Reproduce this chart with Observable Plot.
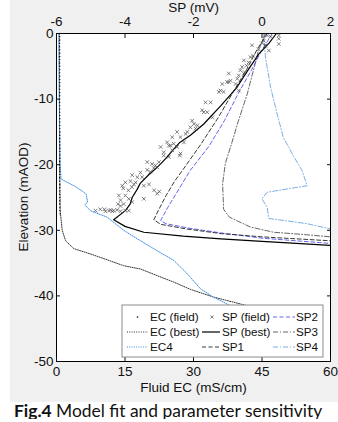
<!DOCTYPE html>
<html><head><meta charset="utf-8">
<script src="https://cdn.jsdelivr.net/npm/d3@7"></script>
<script src="https://cdn.jsdelivr.net/npm/@observablehq/plot@0.6"></script>
<style>
body{margin:0;background:#fff;}
#chart svg{display:block;font-family:"Liberation Sans",Arial,sans-serif !important;font-size:13.5px !important;}
#cap{font-family:Lato,"Open Sans",sans-serif;font-size:17.4px;color:#111;padding-left:14px;line-height:17px;white-space:nowrap;}
</style></head><body>
<div id="chart"></div>
<div id="cap"><b>Fig.4</b> Model fit and parameter sensitivity</div>
<script>
// ---- tick labels ----
const ecTicks = [0, 15, 30, 45, 60];
const spTicks = [-6, -4, -2, 0, 2];
const elTicks = [0, -10, -20, -30, -40, -50];

// ---- EC (field) ----
const ecFieldEl = [0,-0.5,-1,-1.5,-2,-2.5,-3,-3.5,-4,-4.5,-5,-5.5,-6,-6.5,-7,-7.5,-8,-8.5,-9,-9.5,-10,-10.5,-11,-11.5,-12,-12.5,-13,-13.5,-14,-14.5,-15,-15.5,-16,-16.5,-17,-17.5,-18,-18.5,-19,-19.5,-20,-20.5,-21,-21.5,-22,-22.5,-23,-23.5,-24,-24.5,-25,-25.5,-26,-26.5,-27,-27.5];
const ecFieldEC = [0.7,0.7,0.72,0.7,0.68,0.7,0.72,0.7,0.7,0.68,0.7,0.72,0.7,0.7,0.7,0.72,0.7,0.68,0.7,0.7,0.72,0.7,0.7,0.7,0.68,0.7,0.72,0.7,0.7,0.7,0.72,0.7,0.7,0.68,0.7,0.7,0.72,0.7,0.7,0.7,0.7,0.72,0.7,0.7,0.68,0.7,0.72,0.7,0.7,0.7,0.72,0.7,0.7,0.75,0.75,0.8];

// ---- EC (best) ----
const ecBestEC = [0.6,0.65,0.7,0.8,1.25,2.0,3.8,7.4,11.1,14.7,18.4,22.0,25.7,29.3,34.5,41.8,46.0];
const ecBestEl = [0,-10,-20,-27,-30,-31.6,-32.8,-33.6,-34.5,-35.4,-35.9,-36.9,-37.9,-39.0,-40.2,-41.5,-42.3];

// ---- EC4 ----
const ec4EC = [0.5,0.6,0.8,1.0,3.8,5.6,6.5,6.8,6.2,7.4,11.1,14.7,18.4,22.0,25.7,28.6,31.5,34.4,38.1,42.0];
const ec4El = [0,-10,-20,-22.2,-23.2,-24.0,-24.5,-25.7,-26.1,-27.0,-28.0,-30.0,-31.6,-33.1,-34.6,-36.6,-38.9,-40.2,-41.5,-42.3];

// ---- SP (field) ----
const spFieldSP = [0.49,0.49,0.49,0.15,0.25,0.05,0.1,0.0,-0.1,0.1,0.2,-0.29,
  -0.34,-0.26,-0.39,-0.45,-0.53,-0.58,-0.63,-0.68,-0.72,-0.77,-0.5,-0.53,
  -0.97,-0.92,-1.02,-0.97,-1.16,-1.21,-1.12,-1.26,-0.68,-1.65,-1.5,
  -1.75,-1.7,-1.6,-1.45,-2.04,-1.99,-1.89,-2.09,-1.94,
  -2.48,-2.23,-2.62,-2.38,-2.18,-2.58,-2.67,-2.48,-2.38,-2.62,
  -2.77,-2.28,-2.96,-2.87,-2.72,-2.87,-2.72,-2.4,
  -3.35,-3.21,-3.11,-3.06,-3.01,-3.35,-3.26,-3.16,
  -3.79,-3.64,-3.55,-3.5,-3.69,-3.3,-3.45,
  -4.08,-3.99,-3.84,-3.74,-4.05,-3.9,-3.8,-3.15,-3.06,-3.0,
  -4.18,-3.99,-4.13,-3.89,-3.79,-4.04,-3.45,-4.2,-4.13,
  -4.86,-4.72,-4.57,-4.47,-4.42,-4.37,-4.33,-4.23,-4.13,-3.99,-3.89,-4.6];
const spFieldEl = [-0.3,-0.8,-1.6,-0.3,-0.5,-1.1,-1.8,-1.5,-2.4,-1.9,-2.6,-1.8,
  -3.6,-3.4,-4.4,-4.9,-4.1,-5.1,-5.6,-6.4,-6.9,-7.7,-5.9,-6.1,
  -6.1,-7.2,-7.4,-7.4,-7.7,-8.7,-8.9,-8.9,-8.7,-10.5,-10.5,
  -11.7,-12.0,-12.0,-12.8,-13.3,-13.8,-14.0,-14.3,-14.5,
  -15.0,-15.3,-15.8,-15.8,-15.0,-16.8,-17.1,-17.3,-18.3,-17.8,
  -16.6,-16.6,-17.3,-18.1,-17.1,-18.6,-18.8,-18.6,
  -19.6,-19.9,-20.1,-20.4,-19.6,-20.8,-21.1,-20.5,
  -21.6,-21.9,-21.2,-21.9,-22.7,-23.0,-23.2,
  -23.2,-22.7,-22.5,-23.0,-23.6,-23.9,-23.4,-23.9,-24.4,-24.1,
  -24.7,-24.7,-25.4,-25.2,-25.7,-26.0,-25.2,-26.0,-26.3,
  -27.0,-26.8,-27.1,-27.0,-26.9,-27.1,-27.0,-26.9,-27.1,-27.0,-27.0,-26.8];

// ---- SP (best) ----
const spBestSP = [0.42,0.2,-0.09,-0.4,-0.73,-1.2,-1.7,-2.09,-2.4,-2.57,-2.8,-3.06,-3.15,-3.3,-3.55,-3.6,-3.65,-3.79,-3.85,-3.99,-4.33,-4.0,-3.45,-2.3,-1.2,0,1.0,2.0];
const spBestEl = [0,-1.5,-3.1,-5.5,-8.2,-11,-13.8,-15.5,-16.6,-17.6,-19,-20.4,-20.8,-21.5,-22.8,-23.3,-23.8,-25,-26,-27,-28.4,-29.4,-30.3,-30.9,-31.3,-31.7,-32.0,-32.3];

// ---- SP1..SP4 ----
const sp1SP = [0.15,-0.15,-0.45,-0.85,-1.3,-1.8,-2.3,-2.55,-2.8,-3.0,-3.16,-2.95,-2.2,-1.2,0,1.0,2.0];
const sp1El = [0,-2.5,-5.5,-9,-13,-17,-20.7,-22.5,-24.7,-26.7,-28.4,-29.1,-29.8,-30.5,-31.0,-31.3,-31.6];
const sp2SP = [0.3,0.0,-0.3,-0.7,-1.1,-1.55,-2.1,-2.4,-2.75,-2.96,-2.8,-2.1,-1.2,0,1.0,2.0];
const sp2El = [0,-2.5,-5.5,-9.2,-13.3,-17.2,-20.9,-23.5,-26.5,-28.5,-29.0,-29.7,-30.4,-31.2,-31.6,-32.0];
const sp3SP = [0.1,-0.1,-0.2,-0.43,-0.7,-0.9,-1.07,-1.15,-1.12,-0.95,-0.34,0.34,1.12,2.0];
const sp3El = [0,-2.5,-4.6,-9.2,-13.5,-17,-19.8,-22.9,-26.8,-28.0,-29.5,-30.3,-30.6,-31.0];
const sp4SP = [0.05,0.1,0.25,0.44,0.62,0.9,1.17,1.32,0.15,0.0,0.15,0.2,0.64,1.32,2.0];
const sp4El = [0,-3.6,-8.2,-12.2,-15.8,-18.5,-20.9,-23.2,-24.2,-25.2,-26.5,-28.2,-28.5,-29.0,-29.8];

// SP (mV) shares the frame with EC: -6..2 mV  <->  0..60 mS/cm
const spToX = s => (s + 6) * 7.5;
const zipEC = (xs, ys) => xs.map((v, i) => ({x: v, y: ys[i]}));
const zipSP = (xs, ys) => xs.map((v, i) => ({x: spToX(v), y: ys[i]}));

const styles = {
  ecField: {fill: "#000"},
  ecBest: {stroke: "#333", strokeDasharray: "1,1.3", strokeWidth: 1},
  ec4: {stroke: "#3a8ee6", strokeDasharray: "1,1.3", strokeWidth: 1},
  spField: {stroke: "#555", strokeWidth: 0.75},
  spBest: {stroke: "#000", strokeWidth: 1.2},
  sp1: {stroke: "#222", strokeDasharray: "4,2.5", strokeWidth: 0.9},
  sp2: {stroke: "#5555ee", strokeDasharray: "4,2.5", strokeWidth: 0.9},
  sp3: {stroke: "#555", strokeDasharray: "5,2,1,2", strokeWidth: 0.9},
  sp4: {stroke: "#6aa5e0", strokeDasharray: "5,2,1,2", strokeWidth: 0.9}
};
const line = (data, st) => Plot.line(data, {x: "x", y: "y", clip: true, ...st});
const FONT = "'Liberation Sans', Arial, sans-serif";

const svg = Plot.plot({
  width: 338, height: 402,
  marginLeft: 56, marginRight: 8, marginTop: 33, marginBottom: 41,
  style: {fontFamily: FONT, fontSize: "13.5px", color: "#111",
          background: "linear-gradient(to right, #fff 10px, #f0f0f0 10px)"},
  x: {domain: [0, 60]},
  y: {domain: [-50, 0]},
  marks: [
    Plot.frame({fill: "white", stroke: "none"}),
    line(zipEC(ecBestEC, ecBestEl), styles.ecBest),
    line(zipEC(ec4EC, ec4El), styles.ec4),
    line(zipSP(sp4SP, sp4El), styles.sp4),
    line(zipSP(sp3SP, sp3El), styles.sp3),
    line(zipSP(sp2SP, sp2El), styles.sp2),
    line(zipSP(sp1SP, sp1El), styles.sp1),
    line(zipSP(spBestSP, spBestEl), styles.spBest),
    Plot.dot(zipEC(ecFieldEC, ecFieldEl), {x: "x", y: "y", r: 0.7, fill: "#000", stroke: "none"}),
    Plot.dot(zipSP(spFieldSP, spFieldEl), {x: "x", y: "y", symbol: "times", r: 1.8, ...styles.spField}),
    Plot.frame({stroke: "#000", strokeWidth: 1}),
    Plot.axisX({anchor: "bottom", ticks: ecTicks, tickSize: 4, dy: -4, text: null, label: null}),
    Plot.axisX({anchor: "top", ticks: spTicks.map(spToX), tickSize: 4, dy: 4, text: null, label: null}),
    Plot.axisY({anchor: "left", ticks: elTicks, tickSize: 4, dx: 4, text: null, label: null}),
    Plot.axisY({anchor: "right", ticks: elTicks, tickSize: 4, dx: -4, text: null, label: null}),
    Plot.axisX({anchor: "bottom", ticks: ecTicks, tickSize: 0, tickPadding: 5, tickFormat: d => String(d), label: null}),
    Plot.axisX({anchor: "top", ticks: spTicks.map(spToX), tickSize: 0, tickPadding: 8, tickFormat: d => String(Math.round(d / 7.5 - 6)), label: null}),
    Plot.axisY({anchor: "left", ticks: elTicks, tickSize: 0, tickPadding: 3, tickFormat: d => String(d), label: null}),
    Plot.text(["SP (mV)"], {text: d => d, frameAnchor: "top", dy: -31, textAnchor: "middle", fill: "#111"}),
    Plot.text(["Fluid EC (mS/cm)"], {text: d => d, frameAnchor: "bottom", dy: 30, textAnchor: "middle", fill: "#111"})
  ]
});
document.getElementById("chart").appendChild(svg);

// y-axis title, centred on the frame like MATLAB's ylabel
d3.select(svg).append("text")
  .attr("transform", "translate(23,197) rotate(-90)")
  .attr("text-anchor", "middle").attr("dy", "0.35em")
  .attr("font-family", FONT).attr("font-size", "13.5px").attr("fill", "#111")
  .text("Elevation (mAOD)");

// ---- legend (drawn on top of the plot, like the MATLAB legend box) ----
const legendItems = [
  {label: "EC (field)", key: "ecField", col: 0, row: 0},
  {label: "EC (best)", key: "ecBest", col: 0, row: 1},
  {label: "EC4", key: "ec4", col: 0, row: 2},
  {label: "SP (field)", key: "spField", col: 1, row: 0},
  {label: "SP (best)", key: "spBest", col: 1, row: 1},
  {label: "SP1", key: "sp1", col: 1, row: 2},
  {label: "SP2", key: "sp2", col: 2, row: 0},
  {label: "SP3", key: "sp3", col: 2, row: 1},
  {label: "SP4", key: "sp4", col: 2, row: 2}
];
const colX = [[127, 148, 150], [202, 220, 222], [273, 295, 296]];
const rowY = [317, 332, 347];
const lg = d3.select(svg).append("g").attr("font-family", FONT).attr("font-size", "11.7px").attr("text-anchor", "start");
lg.append("rect").attr("x", 122).attr("y", 305).attr("width", 201).attr("height", 52)
  .attr("fill", "#fff").attr("stroke", "#8c8c8c").attr("stroke-width", 1);
for (const it of legendItems) {
  const [x1, x2, tx] = colX[it.col];
  const y = rowY[it.row];
  const st = styles[it.key];
  if (it.key === "ecField") {
    lg.append("circle").attr("cx", (x1 + x2) / 2).attr("cy", y).attr("r", 0.8).attr("fill", "#000");
  } else if (it.key === "spField") {
    const cx = (x1 + x2) / 2 + 1, s = 1.5;
    lg.append("path").attr("d", `M${cx - s},${y - s}L${cx + s},${y + s}M${cx - s},${y + s}L${cx + s},${y - s}`)
      .attr("stroke", st.stroke).attr("stroke-width", st.strokeWidth);
  } else {
    lg.append("line").attr("x1", x1).attr("x2", x2).attr("y1", y).attr("y2", y)
      .attr("stroke", st.stroke).attr("stroke-width", st.strokeWidth)
      .attr("stroke-dasharray", st.strokeDasharray || null);
  }
  lg.append("text").attr("x", tx).attr("y", y).attr("dy", "0.35em").attr("text-anchor", "start")
    .attr("fill", "#111").text(it.label);
}
</script>
</body></html>
